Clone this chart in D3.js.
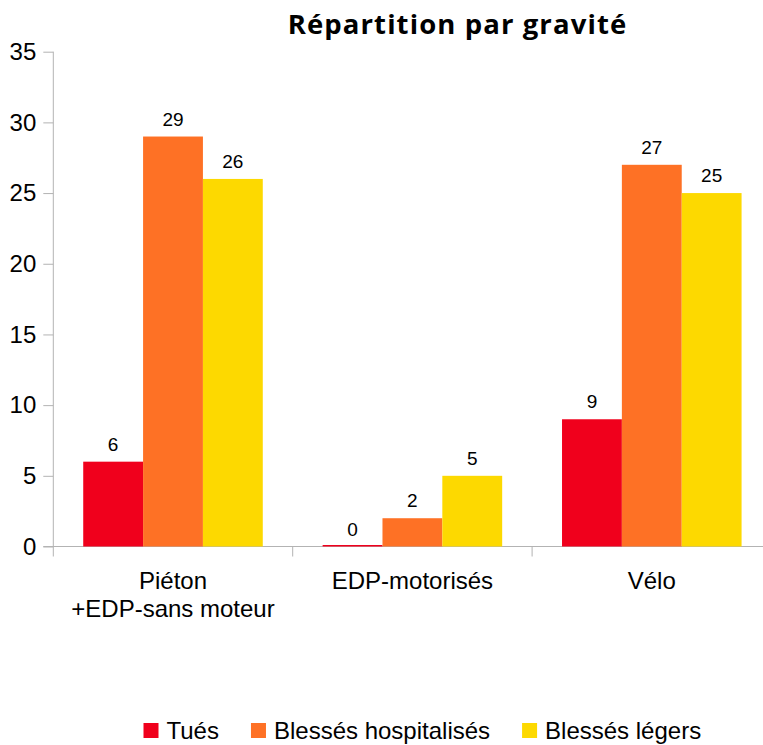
<!DOCTYPE html>
<html>
<head>
<meta charset="utf-8">
<script src="https://cdn.jsdelivr.net/npm/d3@7"></script>
<style>
  body { margin: 0; background: #fff; }
  svg { display: block; }
</style>
</head>
<body>
<script>
// categories and series of the chart
var categories = [["Piéton", "+EDP-sans moteur"], ["EDP-motorisés"], ["Vélo"]];
var series = ["Tués", "Blessés hospitalisés", "Blessés légers"];
var colors = ["#f0001c", "#fe7125", "#fdd900"];

// values per series, in the order of categories
var tues = [6, 0, 9];
var hospitalises = [29, 2, 27];
var legers = [26, 5, 25];

var yTicks = [0, 5, 10, 15, 20, 25, 30, 35];

var values = [tues, hospitalises, legers];
var catKeys = categories.map(function(c){ return c.join(" "); });

var svg = d3.select("body").append("svg")
    .attr("width", 763)
    .attr("height", 745)
    .style("font-family", "'Liberation Sans', Arial, sans-serif");

// plot area (note: "top" is reserved on window, so use plot* names)
var plotLeft = 53.3, plotRight = 771.5, plotTop = 51.7, plotBottom = 546.5;

var x = d3.scaleBand().domain(catKeys).range([plotLeft, plotRight]).padding(0);
var xs = d3.scaleBand().domain(series).range([0, x.bandwidth()]).paddingInner(0).paddingOuter(0.5);
var y = d3.scaleLinear().domain([0, 35]).range([plotBottom, plotTop]);

var axisColor = "#b3b3b3";

// y axis
var yAxis = svg.append("g")
    .attr("transform", "translate(" + plotLeft + ",0)")
    .call(d3.axisLeft(y).tickValues(yTicks).tickSize(10).tickPadding(7));
yAxis.select(".domain").remove();
yAxis.selectAll(".tick line").attr("stroke", axisColor);
yAxis.selectAll(".tick text")
    .attr("font-size", 24)
    .attr("font-family", "'Liberation Sans', Arial, sans-serif")
    .attr("fill", "#000");

svg.append("line")
    .attr("x1", plotLeft).attr("x2", plotLeft)
    .attr("y1", plotTop).attr("y2", plotBottom + 10)
    .attr("stroke", axisColor);

// x axis line + category separators
svg.append("line")
    .attr("x1", plotLeft - 10).attr("x2", plotRight)
    .attr("y1", plotBottom).attr("y2", plotBottom)
    .attr("stroke", axisColor);

svg.selectAll(".sep").data(catKeys.slice(1).concat(["end"])).enter()
    .append("line")
    .attr("x1", function(d){ return d == "end" ? plotRight : x(d); })
    .attr("x2", function(d){ return d == "end" ? plotRight : x(d); })
    .attr("y1", plotBottom).attr("y2", plotBottom + 10)
    .attr("stroke", axisColor);

// bars
var groups = svg.selectAll(".grp").data(catKeys).enter()
    .append("g")
    .attr("transform", function(d){ return "translate(" + x(d) + ",0)"; });

groups.each(function(cat, ci){
    var g = d3.select(this);
    var rows = series.map(function(s, si){ return {s: s, v: values[si][ci], c: colors[si]}; });

    // a zero value is still drawn as a thin line on the axis
    g.selectAll("rect").data(rows).enter()
        .append("rect")
        .attr("x", function(d){ return xs(d.s); })
        .attr("width", xs.bandwidth())
        .attr("y", function(d){ return Math.min(y(d.v), plotBottom - 1.5); })
        .attr("height", function(d){ return Math.max(1.5, plotBottom - y(d.v)); })
        .attr("fill", function(d){ return d.c; });

    g.selectAll(".lbl").data(rows).enter()
        .append("text")
        .attr("x", function(d){ return xs(d.s) + xs.bandwidth() / 2; })
        .attr("y", function(d){ return y(d.v) - 11; })
        .attr("text-anchor", "middle")
        .attr("font-size", 19)
        .text(function(d){ return d.v; });
});

// category labels
categories.forEach(function(lines, i){
    var t = svg.append("text")
        .attr("text-anchor", "middle")
        .attr("font-size", 24)
        .attr("y", 588.5);
    lines.forEach(function(l, j){
        t.append("tspan")
            .attr("x", x(catKeys[i]) + x.bandwidth() / 2)
            .attr("dy", j == 0 ? 0 : 28.5)
            .text(l);
    });
});

// title
svg.append("text")
    .attr("x", 457.5)
    .attr("y", 34.3)
    .attr("text-anchor", "middle")
    .attr("font-family", "'Open Sans', Lato, sans-serif")
    .attr("font-weight", "bold")
    .attr("font-size", 27.5)
    .attr("letter-spacing", 1.1)
    .text("Répartition par gravité");

// legend
var lx = 143.5;
series.forEach(function(s, i){
    svg.append("rect")
        .attr("x", lx).attr("y", 723)
        .attr("width", 15).attr("height", 15)
        .attr("fill", colors[i]);
    var t = svg.append("text")
        .attr("x", lx + 23)
        .attr("y", 739.3)
        .attr("font-size", 24)
        .text(s);
    lx = lx + 23 + t.node().getComputedTextLength() + 32;
});
</script>
</body>
</html>
